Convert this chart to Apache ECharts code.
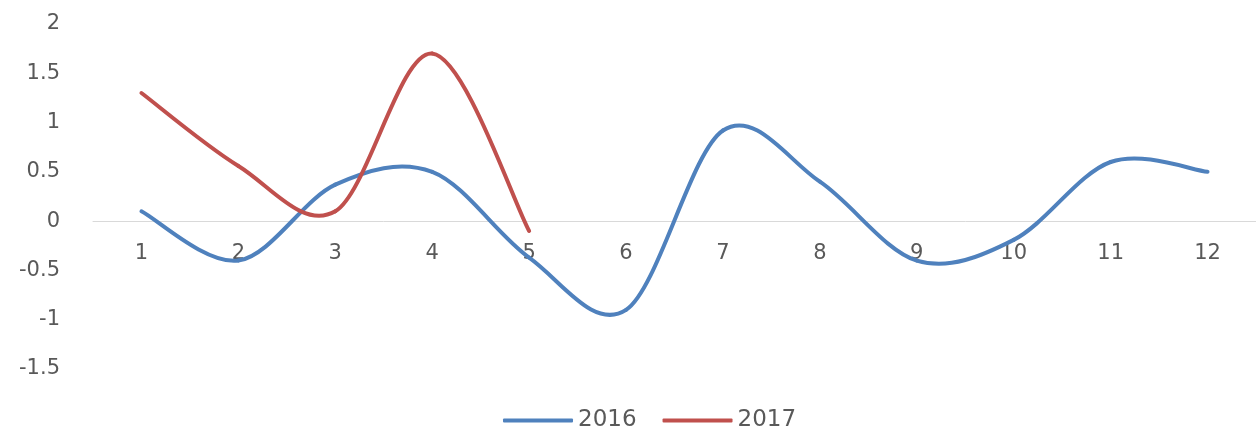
<!DOCTYPE html>
<html>
<head>
<meta charset="utf-8">
<script src="https://cdn.jsdelivr.net/npm/echarts@6/dist/echarts.min.js"></script>
<style>
  html, body { margin: 0; padding: 0; background: #ffffff; }
  #chart { width: 1256px; height: 428px; }
</style>
</head>
<body>
<div id="chart"></div>
<script>
// 月份
const months = ['1', '2', '3', '4', '5', '6', '7', '8', '9', '10', '11', '12']
// 2016 年
const values2016 = [0.1, -0.4, 0.37, 0.5, -0.37, -0.9, 0.92, 0.4, -0.4, -0.19, 0.6, 0.5]
// 2017 年（只到 5 月）
const values2017 = [1.3, 0.56, 0.1, 1.7, -0.1]

const textColor = '#595959'
const font = 'DejaVu Sans'

// 仿 Excel 平滑线：每段用 Catmull-Rom 三次贝塞尔
function smoothSeries (name, values, color) {
  return {
    name: name,
    type: 'custom',
    data: values.map((v, i) => [i, v]),
    itemStyle: { color: color },
    renderItem (params, api) {
      const i = params.dataIndex
      if (i >= values.length - 1) return null
      const pt = k => api.coord([k, values[Math.max(0, Math.min(values.length - 1, k))]])
      const p0 = i > 0 ? pt(i - 1) : pt(i)
      const p1 = pt(i)
      const p2 = pt(i + 1)
      const p3 = i + 2 < values.length ? pt(i + 2) : pt(i + 1)
      return {
        type: 'bezierCurve',
        shape: {
          x1: p1[0],
          y1: p1[1],
          cpx1: p1[0] + (p2[0] - p0[0]) / 6,
          cpy1: p1[1] + (p2[1] - p0[1]) / 6,
          cpx2: p2[0] - (p3[0] - p1[0]) / 6,
          cpy2: p2[1] - (p3[1] - p1[1]) / 6,
          x2: p2[0],
          y2: p2[1]
        },
        style: { stroke: color, lineWidth: 4, fill: null, lineCap: 'round' }
      }
    }
  }
}

echarts.init(document.getElementById('chart')).setOption({
  color: ['#4F81BD', '#C0504D'],
  animation: false,
  grid: {
    left: 93,
    top: 24,
    width: 1170,
    height: 345
  },
  legend: {
    bottom: -9,
    left: 498,
    icon: 'roundRect',
    itemWidth: 70,
    itemHeight: 4,
    itemGap: 26,
    textStyle: { color: textColor, fontFamily: font, fontSize: 23 },
    data: ['2016', '2017']
  },
  xAxis: {
    type: 'category',
    data: months,
    boundaryGap: true,
    // 横轴画在 0 的位置
    axisLine: { onZero: false, lineStyle: { color: '#d9d9d9', width: 1 } },
    offset: -148,
    axisTick: { show: false },
    axisLabel: { color: textColor, fontFamily: font, fontSize: 21, margin: 22 }
  },
  yAxis: {
    type: 'value',
    min: -1.5,
    max: 2,
    interval: 0.5,
    axisLine: { show: false },
    axisTick: { show: false },
    splitLine: { show: false },
    axisLabel: { color: textColor, fontFamily: font, fontSize: 21, margin: 33 }
  },
  series: [
    smoothSeries('2016', values2016, '#4F81BD'),
    smoothSeries('2017', values2017, '#C0504D')
  ]
})
</script>
</body>
</html>
